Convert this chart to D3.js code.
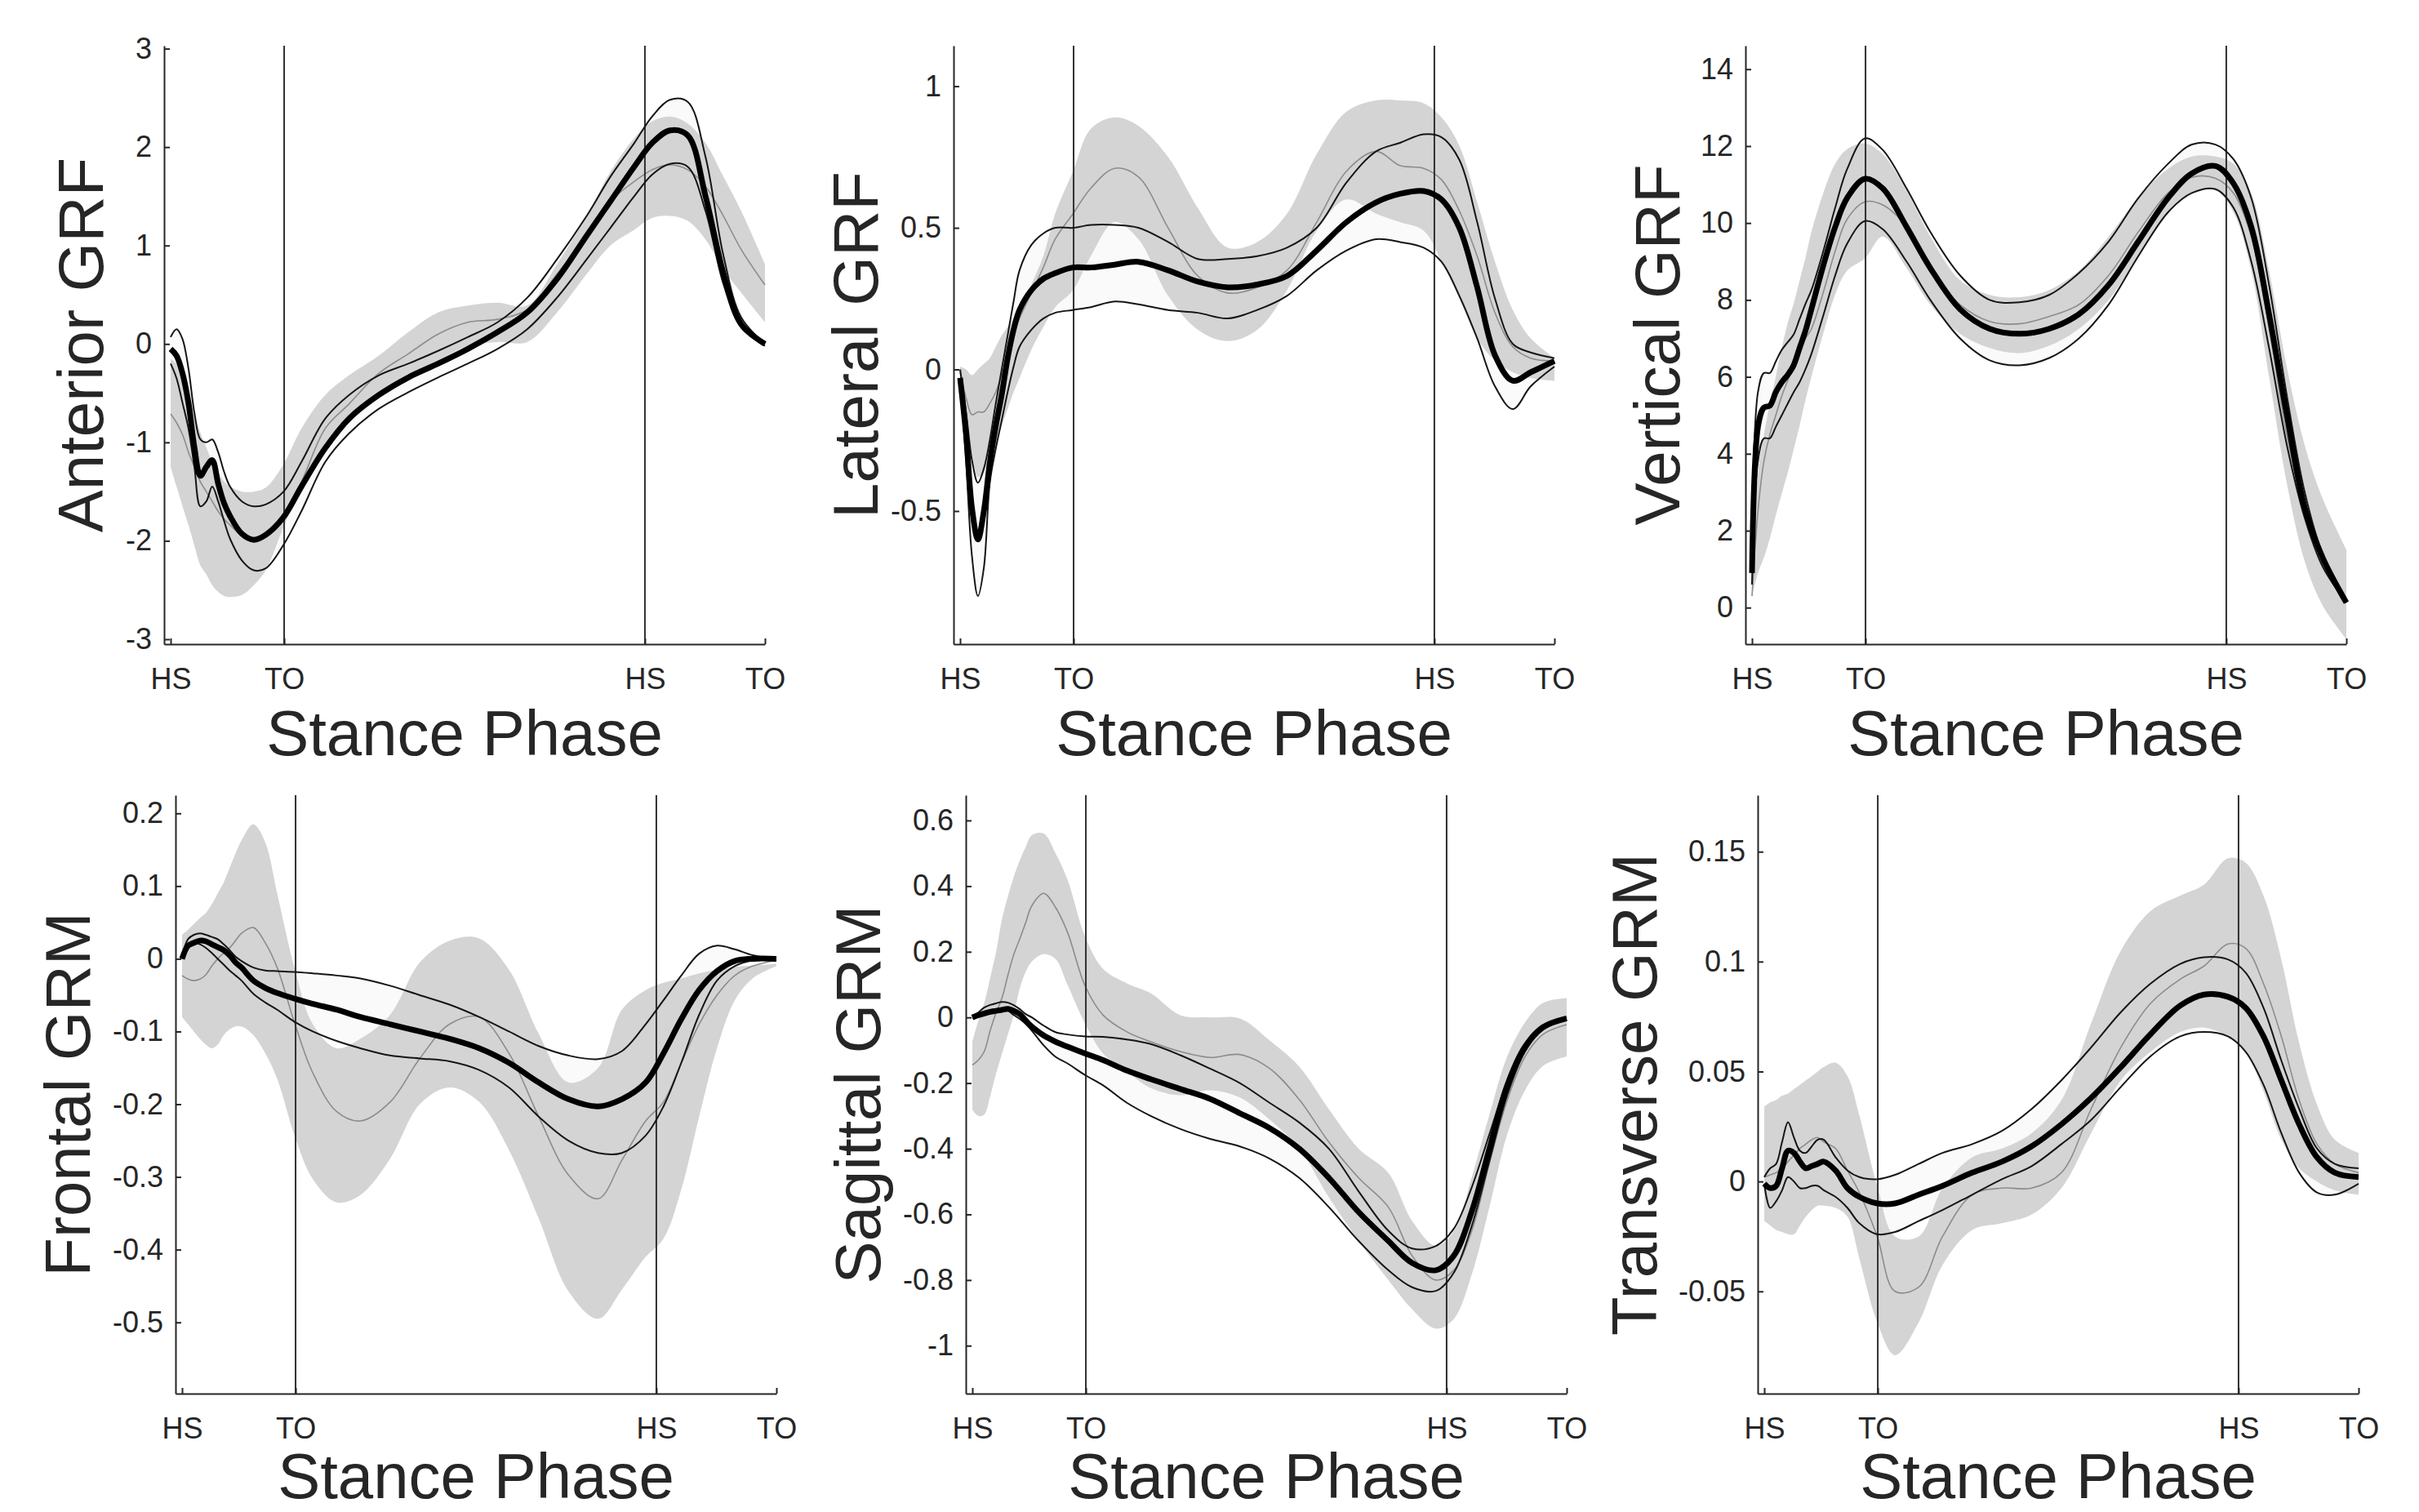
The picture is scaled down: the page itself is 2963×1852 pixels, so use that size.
<!DOCTYPE html>
<html>
<head>
<meta charset="utf-8">
<script src="https://cdn.jsdelivr.net/npm/d3@7/dist/d3.min.js"></script>
<style>
  body { margin: 0; background: #fff; }
  svg  { display: block; font-family: "Liberation Sans", Arial, Helvetica, sans-serif; }
</style>
</head>
<body>
<script>
// ── Data ──────────────────────────────────────────────────────────────────
// stance phase, percent (HS = 0, final TO = 100)
const stance = [0,1,2,3,4,5,6,7,8,9,10,12,14,16,19,22,26,30,35,40,45,50,55,60,65,70,74,78,81,84,87,90,93,96,100];
const eventTicks  = [0, 19.1, 79.8, 100];
const eventLabels = ["HS", "TO", "HS", "TO"];

// Anterior GRF
const antMean     = [-0.05,-0.12,-0.3,-0.6,-1.05,-1.34,-1.25,-1.18,-1.42,-1.62,-1.75,-1.93,-1.99,-1.94,-1.76,-1.45,-1.06,-0.76,-0.52,-0.34,-0.2,-0.05,0.12,0.32,0.66,1.1,1.45,1.8,2.04,2.17,2.12,1.5,0.72,0.2,0.0];
const antUpper    = [0.07,0.15,0.05,-0.25,-0.7,-0.97,-1.0,-0.97,-1.1,-1.3,-1.45,-1.6,-1.65,-1.63,-1.5,-1.2,-0.76,-0.52,-0.32,-0.2,-0.07,0.07,0.22,0.47,0.86,1.3,1.7,2.04,2.31,2.48,2.46,1.9,0.9,0.27,0.0];
const antLower    = [-0.2,-0.35,-0.6,-0.86,-1.25,-1.65,-1.6,-1.45,-1.6,-1.8,-1.98,-2.2,-2.3,-2.28,-2.04,-1.7,-1.2,-0.91,-0.66,-0.49,-0.34,-0.2,-0.05,0.15,0.47,0.86,1.18,1.5,1.72,1.83,1.8,1.35,0.61,0.17,-0.02];
const antRefMean  = [-0.71,-0.8,-0.92,-1.1,-1.25,-1.4,-1.5,-1.6,-1.7,-1.78,-1.84,-1.95,-2.0,-1.96,-1.72,-1.4,-0.86,-0.61,-0.3,-0.1,0.1,0.22,0.25,0.35,0.71,1.1,1.45,1.65,1.77,1.82,1.77,1.6,1.3,0.96,0.6];
const antRefUpper = [-0.15,-0.2,-0.3,-0.47,-0.7,-0.9,-1.05,-1.2,-1.3,-1.4,-1.45,-1.5,-1.5,-1.46,-1.22,-0.86,-0.52,-0.32,-0.12,0.12,0.32,0.39,0.42,0.39,0.81,1.3,1.75,2.09,2.26,2.31,2.24,2.04,1.7,1.35,0.81];
const antRefLower = [-1.25,-1.45,-1.65,-1.84,-2.05,-2.25,-2.34,-2.45,-2.52,-2.56,-2.57,-2.55,-2.45,-2.3,-1.86,-1.45,-1.06,-0.76,-0.52,-0.32,-0.17,-0.02,0.02,0.02,0.32,0.71,1.0,1.16,1.28,1.3,1.25,1.06,0.76,0.52,0.22];
const antTicks    = [-3,-2,-1,0,1,2,3];

// Lateral GRF
const latMean     = [-0.03,-0.23,-0.49,-0.6,-0.5,-0.33,-0.2,-0.09,0.04,0.14,0.21,0.28,0.32,0.34,0.36,0.36,0.37,0.38,0.35,0.31,0.29,0.3,0.33,0.42,0.52,0.59,0.62,0.63,0.6,0.5,0.29,0.05,-0.04,-0.01,0.03];
const latUpper    = [0.0,-0.15,-0.32,-0.4,-0.35,-0.25,-0.12,0.0,0.12,0.24,0.35,0.44,0.48,0.5,0.5,0.51,0.51,0.5,0.45,0.39,0.39,0.4,0.43,0.5,0.66,0.77,0.8,0.83,0.82,0.74,0.52,0.25,0.09,0.06,0.04];
const latLower    = [-0.03,-0.32,-0.66,-0.8,-0.7,-0.4,-0.28,-0.18,-0.08,0.01,0.08,0.14,0.18,0.2,0.21,0.22,0.24,0.23,0.21,0.2,0.18,0.21,0.26,0.35,0.42,0.46,0.45,0.43,0.38,0.26,0.11,-0.06,-0.14,-0.06,0.01];
const latRefMean  = [-0.01,-0.1,-0.16,-0.15,-0.15,-0.12,-0.08,-0.02,0.05,0.12,0.18,0.27,0.36,0.46,0.55,0.64,0.71,0.68,0.5,0.33,0.27,0.29,0.35,0.52,0.7,0.77,0.72,0.71,0.67,0.56,0.4,0.2,0.08,0.04,0.03];
const latRefUpper = [0.01,0.0,-0.02,0.0,0.02,0.04,0.08,0.12,0.15,0.18,0.2,0.3,0.4,0.55,0.7,0.85,0.89,0.86,0.75,0.57,0.43,0.45,0.55,0.76,0.91,0.95,0.95,0.94,0.89,0.79,0.59,0.38,0.21,0.11,0.04];
const latRefLower = [-0.01,-0.18,-0.3,-0.38,-0.36,-0.32,-0.27,-0.2,-0.14,-0.08,-0.03,0.07,0.15,0.22,0.28,0.4,0.52,0.46,0.26,0.14,0.1,0.14,0.28,0.49,0.6,0.55,0.52,0.49,0.38,0.25,0.11,0.03,-0.01,-0.03,-0.04];
const latTicks    = [-0.5,0,0.5,1];

// Vertical GRF
const vertMean     = [0.9,4.7,5.2,5.25,5.6,5.86,6.05,6.3,6.75,7.2,7.76,8.9,9.9,10.65,11.15,10.9,9.9,8.83,7.76,7.25,7.12,7.25,7.63,8.39,9.52,10.65,11.29,11.48,11.03,9.9,7.63,5.0,2.6,1.3,0.13];
const vertUpper    = [2.0,5.6,6.1,6.1,6.4,6.7,6.9,7.1,7.5,7.9,8.26,9.27,10.4,11.4,12.2,11.9,10.9,9.77,8.64,8.0,7.94,8.13,8.7,9.52,10.65,11.54,12.04,12.04,11.66,10.65,8.39,5.5,3.0,1.4,0.19];
const vertLower    = [0.6,3.8,4.4,4.4,4.7,5.0,5.3,5.6,5.86,6.2,6.6,7.6,8.64,9.46,10.05,9.84,9.0,8.0,7.0,6.43,6.3,6.49,7.0,7.88,9.14,10.28,10.78,10.88,10.4,9.0,6.75,4.22,2.33,1.07,0.13];
const vertRefMean  = [0.3,2.5,3.8,4.5,5.0,5.5,5.9,6.3,6.7,7.0,7.25,8.2,9.27,10.1,10.55,10.47,9.9,8.76,7.88,7.44,7.38,7.57,7.88,8.64,9.77,10.78,11.19,11.16,10.78,9.65,7.25,4.48,2.46,1.2,0.19];
const vertRefUpper = [1.0,3.5,4.5,5.3,6.0,6.75,7.4,7.9,8.5,9.1,9.77,10.78,11.54,11.92,12.07,11.79,10.84,9.65,8.51,8.13,8.07,8.26,8.76,9.65,10.66,11.41,11.73,11.73,11.54,10.78,8.76,6.24,4.22,2.84,1.51];
const vertRefLower = [0.3,0.9,1.3,1.8,2.4,2.96,3.5,4.1,4.73,5.4,6.0,7.13,8.14,8.76,9.08,9.65,8.83,7.88,7.12,6.75,6.62,6.81,7.25,8.0,9.14,10.28,10.78,10.85,10.28,8.76,6.0,3.22,1.2,0.06,-0.82];
const vertTicks    = [0,2,4,6,8,10,12,14];

// Frontal GRM
const frontMean     = [0.0,0.018,0.022,0.025,0.024,0.02,0.016,0.012,0.005,-0.005,-0.012,-0.03,-0.04,-0.047,-0.055,-0.062,-0.07,-0.08,-0.09,-0.1,-0.11,-0.123,-0.143,-0.17,-0.193,-0.203,-0.193,-0.17,-0.13,-0.083,-0.043,-0.017,-0.003,0.0,0.0];
const frontUpper    = [0.003,0.027,0.033,0.035,0.033,0.03,0.027,0.02,0.012,0.003,-0.003,-0.012,-0.016,-0.017,-0.018,-0.02,-0.023,-0.027,-0.037,-0.05,-0.063,-0.08,-0.1,-0.12,-0.133,-0.138,-0.127,-0.09,-0.057,-0.023,0.007,0.018,0.013,0.005,0.0];
const frontLower    = [0.0,0.02,0.022,0.02,0.015,0.008,0.0,-0.008,-0.016,-0.023,-0.03,-0.048,-0.06,-0.07,-0.087,-0.1,-0.113,-0.123,-0.133,-0.137,-0.141,-0.153,-0.177,-0.217,-0.25,-0.267,-0.267,-0.243,-0.203,-0.143,-0.077,-0.03,-0.01,-0.002,0.0];
const frontRefMean  = [-0.023,-0.028,-0.03,-0.028,-0.022,-0.01,0.0,0.008,0.015,0.025,0.035,0.043,0.022,-0.012,-0.09,-0.157,-0.21,-0.223,-0.197,-0.137,-0.09,-0.08,-0.13,-0.217,-0.297,-0.33,-0.277,-0.223,-0.197,-0.143,-0.09,-0.05,-0.023,-0.01,-0.002];
const frontRefUpper = [0.033,0.04,0.048,0.056,0.063,0.075,0.09,0.105,0.125,0.145,0.163,0.185,0.16,0.09,-0.015,-0.09,-0.123,-0.11,-0.077,-0.005,0.025,0.028,-0.015,-0.103,-0.17,-0.15,-0.07,-0.043,-0.033,-0.027,-0.02,-0.015,-0.011,-0.009,-0.007];
const frontRefLower = [-0.08,-0.09,-0.1,-0.11,-0.118,-0.123,-0.118,-0.105,-0.097,-0.093,-0.093,-0.105,-0.13,-0.165,-0.245,-0.303,-0.335,-0.325,-0.275,-0.2,-0.177,-0.197,-0.263,-0.357,-0.457,-0.495,-0.455,-0.41,-0.385,-0.317,-0.217,-0.123,-0.057,-0.027,-0.01];
const frontTicks    = [-0.5,-0.4,-0.3,-0.2,-0.1,0,0.1,0.2];

// Sagittal GRM
const sagMean     = [0.0,0.007,0.012,0.017,0.02,0.023,0.026,0.02,0.01,-0.01,-0.028,-0.055,-0.074,-0.089,-0.11,-0.13,-0.162,-0.188,-0.218,-0.248,-0.292,-0.337,-0.4,-0.489,-0.593,-0.681,-0.748,-0.77,-0.726,-0.593,-0.4,-0.207,-0.089,-0.03,-0.003];
const sagUpper    = [0.003,0.015,0.03,0.038,0.043,0.047,0.045,0.037,0.025,0.01,0.0,-0.025,-0.045,-0.052,-0.058,-0.059,-0.067,-0.081,-0.115,-0.156,-0.2,-0.26,-0.32,-0.4,-0.53,-0.65,-0.704,-0.696,-0.644,-0.519,-0.356,-0.193,-0.081,-0.025,0.0];
const sagLower    = [-0.003,0.003,0.007,0.013,0.018,0.022,0.02,0.007,-0.005,-0.02,-0.04,-0.085,-0.12,-0.14,-0.176,-0.207,-0.26,-0.3,-0.34,-0.37,-0.393,-0.43,-0.489,-0.578,-0.681,-0.77,-0.822,-0.833,-0.778,-0.637,-0.437,-0.237,-0.104,-0.037,-0.007];
const sagRefMean  = [-0.145,-0.13,-0.104,-0.04,0.015,0.06,0.13,0.193,0.24,0.29,0.34,0.378,0.335,0.26,0.095,0.007,-0.044,-0.074,-0.104,-0.122,-0.113,-0.155,-0.25,-0.38,-0.489,-0.578,-0.726,-0.8,-0.77,-0.652,-0.444,-0.252,-0.119,-0.052,-0.022];
const sagRefUpper = [-0.074,-0.01,0.044,0.12,0.2,0.3,0.37,0.43,0.48,0.52,0.555,0.56,0.5,0.42,0.245,0.148,0.104,0.074,0.007,0.0,-0.003,-0.07,-0.15,-0.28,-0.4,-0.474,-0.62,-0.696,-0.652,-0.489,-0.296,-0.119,-0.015,0.044,0.059];
const sagRefLower = [-0.281,-0.3,-0.296,-0.24,-0.17,-0.11,-0.05,0.01,0.09,0.14,0.17,0.193,0.178,0.1,-0.02,-0.11,-0.165,-0.215,-0.237,-0.222,-0.244,-0.311,-0.4,-0.548,-0.681,-0.8,-0.889,-0.948,-0.919,-0.785,-0.578,-0.356,-0.222,-0.148,-0.119];
const sagTicks    = [-1,-0.8,-0.6,-0.4,-0.2,0,0.2,0.4,0.6];

// Transverse GRM
const transMean     = [-0.001,-0.003,-0.002,0.006,0.014,0.013,0.009,0.006,0.007,0.008,0.009,0.005,-0.003,-0.007,-0.01,-0.01,-0.006,-0.002,0.004,0.009,0.016,0.026,0.038,0.052,0.067,0.08,0.085,0.084,0.079,0.066,0.046,0.026,0.011,0.004,0.002];
const transUpper    = [0.002,0.006,0.008,0.018,0.027,0.02,0.014,0.013,0.016,0.019,0.019,0.011,0.005,0.002,0.001,0.003,0.008,0.013,0.017,0.023,0.033,0.046,0.061,0.077,0.09,0.099,0.102,0.101,0.095,0.079,0.055,0.033,0.015,0.008,0.006];
const transLower    = [-0.001,-0.012,-0.009,-0.004,0.002,0.0,-0.003,-0.003,-0.002,-0.002,-0.004,-0.007,-0.012,-0.019,-0.024,-0.023,-0.018,-0.013,-0.006,0.001,0.007,0.017,0.028,0.043,0.057,0.066,0.068,0.066,0.059,0.044,0.022,0.004,-0.005,-0.006,-0.001];
const transRefMean  = [0.002,0.003,0.004,0.006,0.009,0.012,0.015,0.017,0.019,0.02,0.018,0.015,0.005,-0.005,-0.025,-0.05,-0.048,-0.025,-0.006,-0.003,-0.003,0.004,0.033,0.061,0.081,0.092,0.098,0.108,0.106,0.09,0.066,0.037,0.017,0.008,0.004];
const transRefUpper = [0.034,0.036,0.037,0.039,0.04,0.042,0.044,0.046,0.048,0.05,0.052,0.054,0.048,0.03,-0.002,-0.025,-0.025,-0.003,0.011,0.015,0.022,0.037,0.072,0.105,0.123,0.13,0.135,0.147,0.145,0.13,0.101,0.063,0.035,0.019,0.013];
const transRefLower = [-0.018,-0.02,-0.022,-0.023,-0.024,-0.024,-0.02,-0.016,-0.013,-0.011,-0.011,-0.012,-0.016,-0.035,-0.064,-0.079,-0.064,-0.038,-0.022,-0.019,-0.015,-0.003,0.022,0.046,0.059,0.068,0.07,0.066,0.059,0.041,0.019,0.006,0.0,-0.004,-0.006];
const transTicks    = [-0.05,0,0.05,0.1,0.15];

// ── Panels (data binding + axis limits) ───────────────────────────────────
const panels = [
  { label: "Anterior GRF",   mean: antMean,   upper: antUpper,   lower: antLower,   refMean: antRefMean,   refUpper: antRefUpper,   refLower: antRefLower,   ticks: antTicks,   yDomain: [-3.05, 3.03] },
  { label: "Lateral GRF",    mean: latMean,   upper: latUpper,   lower: latLower,   refMean: latRefMean,   refUpper: latRefUpper,   refLower: latRefLower,   ticks: latTicks,   yDomain: [-0.97, 1.143] },
  { label: "Vertical GRF",   mean: vertMean,  upper: vertUpper,  lower: vertLower,  refMean: vertRefMean,  refUpper: vertRefUpper,  refLower: vertRefLower,  ticks: vertTicks,  yDomain: [-0.95, 14.61] },
  { label: "Frontal GRM",    mean: frontMean, upper: frontUpper, lower: frontLower, refMean: frontRefMean, refUpper: frontRefUpper, refLower: frontRefLower, ticks: frontTicks, yDomain: [-0.598, 0.225] },
  { label: "Sagittal GRM",   mean: sagMean,   upper: sagUpper,   lower: sagLower,   refMean: sagRefMean,   refUpper: sagRefUpper,   refLower: sagRefLower,   ticks: sagTicks,   yDomain: [-1.146, 0.677] },
  { label: "Transverse GRM", mean: transMean, upper: transUpper, lower: transLower, refMean: transRefMean, refUpper: transRefUpper, refLower: transRefLower, ticks: transTicks, yDomain: [-0.0965, 0.1757] },
];

// ── Layout ────────────────────────────────────────────────────────────────
const totalW = 2963, totalH = 1852;
const plotW = 736, plotH = 733;
const xDomain = [-1.1, 100];
const layout = [
  { left: 201,  top: 56,  labelDx: -75,  xLabelDy: 136 },
  { left: 1168, top: 56,  labelDx: -93,  xLabelDy: 136 },
  { left: 2138, top: 56,  labelDx: -81,  xLabelDy: 136 },
  { left: 215,  top: 974, labelDx: -105, xLabelDy: 128 },
  { left: 1183, top: 974, labelDx: -105, xLabelDy: 128 },
  { left: 2153, top: 974, labelDx: -124, xLabelDy: 128 },
];
const ink = "#262626";
const FONT = "'Liberation Sans', Arial, Helvetica, sans-serif";

const svg = d3.select("body").append("svg")
  .attr("width", totalW)
  .attr("height", totalH);

svg.append("rect").attr("width", totalW).attr("height", totalH).attr("fill", "#fff");

// MATLAB-style tick labels: plain hyphen minus, no trailing zeros
const fmt = d => {
  const s = String(+Math.abs(d).toFixed(3));
  return d < 0 ? "-" + s : s;
};

const curve = d3.curveCatmullRom.alpha(0.5);

panels.forEach((p, i) => {
  const L = layout[i];
  const g = svg.append("g").attr("transform", `translate(${L.left},${L.top})`);

  const x = d3.scaleLinear().domain(xDomain).range([0, plotW]);
  const y = d3.scaleLinear().domain(p.yDomain).range([plotH, 0]);

  const clipId = `clip-${i}`;
  g.append("clipPath").attr("id", clipId)
    .append("rect").attr("x", 0).attr("y", 0).attr("width", plotW + 4).attr("height", plotH);

  const plot = g.append("g").attr("clip-path", `url(#${clipId})`);

  const band = (lo, hi) => d3.area()
    .x((d, j) => x(stance[j]))
    .y0((d, j) => y(lo[j]))
    .y1((d, j) => y(hi[j]))
    .curve(curve)(stance);

  const line = vals => d3.line()
    .x((d, j) => x(stance[j]))
    .y((d, j) => y(vals[j]))
    .curve(curve)(stance);

  // subject band (near-white), then reference band (grey) on top
  plot.append("path").attr("d", band(p.lower, p.upper)).attr("fill", "#fafafa");
  plot.append("path").attr("d", band(p.refLower, p.refUpper)).attr("fill", "#d4d4d4");
  plot.append("path").attr("d", line(p.refMean))
    .attr("fill", "none").attr("stroke", "#8c8c8c").attr("stroke-width", 1.6);

  // gait events
  [eventTicks[1], eventTicks[2]].forEach(t => {
    plot.append("line")
      .attr("x1", x(t)).attr("x2", x(t))
      .attr("y1", 0).attr("y2", plotH)
      .attr("stroke", "#303030").attr("stroke-width", 2);
  });

  [p.upper, p.lower].forEach(v => {
    plot.append("path").attr("d", line(v))
      .attr("fill", "none").attr("stroke", "#151515").attr("stroke-width", 2);
  });

  plot.append("path").attr("d", line(p.mean))
    .attr("fill", "none").attr("stroke", "#000").attr("stroke-width", 7)
    .attr("stroke-linejoin", "round");

  // ── Axes ──
  const yAxis = g.append("g")
    .call(d3.axisLeft(y).tickValues(p.ticks).tickFormat(fmt)
      .tickSizeInner(-7).tickSizeOuter(0).tickPadding(15));

  const xAxis = g.append("g")
    .attr("transform", `translate(0,${plotH})`)
    .call(d3.axisBottom(x).tickValues(eventTicks).tickFormat((d, j) => eventLabels[j])
      .tickSizeInner(-7).tickSizeOuter(0).tickPadding(29));

  [yAxis, xAxis].forEach(a => {
    a.attr("font-family", FONT).attr("font-size", 36);
    a.selectAll("path, line").attr("stroke", ink).attr("stroke-width", 2);
    a.selectAll("text").attr("fill", ink);
  });

  // axis labels
  g.append("text")
    .attr("transform", `translate(${L.labelDx},${plotH / 2}) rotate(-90)`)
    .attr("text-anchor", "middle")
    .attr("font-family", FONT).attr("font-size", 78).attr("fill", ink)
    .text(p.label);

  g.append("text")
    .attr("x", plotW / 2).attr("y", plotH + L.xLabelDy)
    .attr("text-anchor", "middle")
    .attr("font-family", FONT).attr("font-size", 78).attr("fill", ink)
    .text("Stance Phase");
});
</script>
</body>
</html>
